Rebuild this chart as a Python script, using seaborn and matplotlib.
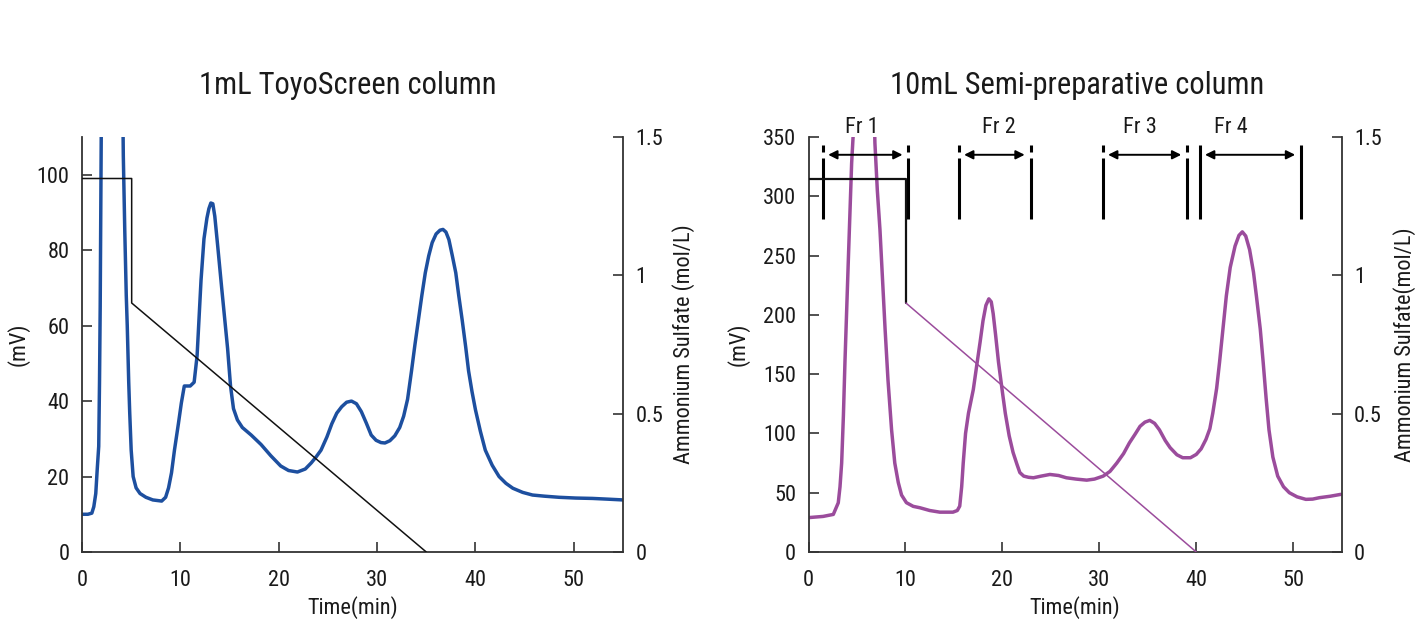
import matplotlib
matplotlib.use("Agg")
import matplotlib.pyplot as plt
import seaborn as sns
import pandas as pd

# ---- 1 mL ToyoScreen column: UV trace (mV) ----
small_time = [0, 0.6, 1.0, 1.2, 1.4, 1.55, 1.7, 1.78, 1.85, 1.92, 2.0, 3.0, 4.1, 4.2, 4.35,
              4.5, 4.6, 4.75, 4.85, 5.0, 5.2, 5.5, 5.9, 6.5, 7.2, 8.1, 8.5, 8.8, 9.1, 9.4,
              9.8, 10.1, 10.4, 11.0, 11.4, 11.7, 11.9, 12.1, 12.4, 12.7, 12.9, 13.1, 13.3,
              13.5, 13.8, 14.2, 14.5, 14.8, 15.1, 15.4, 15.8, 16.3, 17.2, 18.2, 19.2, 20.2,
              21.0, 21.9, 22.7, 23.3, 23.8, 24.3, 24.9, 25.4, 25.9, 26.4, 26.9, 27.4, 27.9,
              28.4, 28.9, 29.4, 29.9, 30.4, 30.8, 31.3, 31.8, 32.3, 32.7, 33.1, 33.5, 33.85,
              34.2, 34.55, 34.9, 35.25, 35.6, 36.0, 36.4, 36.7, 37.0, 37.3, 37.65, 38.0,
              38.3, 38.65, 39.0, 39.3, 39.65, 40.0, 40.5, 41.0, 41.7, 42.4, 43.1, 43.8,
              44.8, 45.8, 47.0, 48.5, 50.2, 51.9, 53.5, 55.0]
small_mv = [10, 10, 10.3, 12, 15.5, 22, 28, 45, 65, 95, 130, 600, 130, 105, 85,
            68, 60, 45, 37, 27, 20, 17, 15.5, 14.5, 13.8, 13.5, 14.5, 17, 21, 27,
            34, 39.5, 44, 44, 45, 52, 62, 72, 83, 88.5, 91, 92.5, 92.3,
            89, 81, 70, 62, 54, 44, 38, 35, 33, 31, 28.5, 25.5, 22.8,
            21.6, 21.2, 22.0, 23.6, 25.2, 27, 30.5, 34, 36.8, 38.5, 39.7, 40, 39.3,
            37.2, 34.2, 31, 29.6, 29, 28.9, 29.5, 30.8, 33, 36, 40.5, 48, 55,
            61.5, 68, 74, 78.5, 82, 84.3, 85.3, 85.5, 84.8, 82.8, 78.5, 74,
            68, 61.5, 54.5, 48, 42.5, 37.7, 32, 27, 23, 20, 18.2, 16.9,
            15.8, 15.1, 14.8, 14.5, 14.3, 14.2, 14.0, 13.8]
# ammonium sulfate gradient program (mol/L)
small_grad_time = [0, 5.05, 5.05, 35.0]
small_grad_conc = [1.35, 1.35, 0.9, 0.0]

# ---- 10 mL semi-preparative column: UV trace (mV) ----
prep_time = [0, 1.5, 2.56, 3.07, 3.25, 3.42, 3.6, 3.76, 4.1, 4.45, 4.8, 5.8, 6.75, 6.85,
             7.1, 7.37, 7.9, 8.2, 8.57, 8.9, 9.26, 9.6, 10.1, 10.8, 11.5, 12.5, 13.55,
             14.9, 15.35, 15.6, 15.8, 15.96, 16.2, 16.5, 17.0, 17.4, 17.7, 18.0, 18.3,
             18.6, 18.85, 19.05, 19.3, 19.6, 20.0, 20.3, 20.7, 21.1, 21.5, 21.8, 22.2,
             22.7, 23.2, 24.0, 24.9, 25.8, 26.6, 27.6, 28.7, 29.5, 30.4, 31.1, 31.8,
             32.5, 33.1, 33.7, 34.2, 34.7, 35.2, 35.7, 36.2, 36.8, 37.3, 38.0, 38.6,
             39.4, 40.0, 40.5, 41.0, 41.4, 41.7, 42.1, 42.4, 42.8, 43.1, 43.5, 44.0,
             44.4, 44.75, 45.1, 45.5, 45.9, 46.2, 46.6, 46.9, 47.2, 47.5, 47.9, 48.4,
             49.0, 49.6, 50.4, 51.3, 52.0, 52.7, 53.8, 54.9]
prep_mv = [29, 30, 31.7, 41.5, 55, 75, 115, 160, 244, 328, 380, 700, 380, 345,
           305, 272, 188, 145, 103, 75, 58.6, 48, 41.6, 38.5, 37.3, 35, 33.6,
           33.6, 35, 38.7, 55, 75, 100, 117, 137, 160, 177, 195, 208,
           213.5, 211, 201, 183, 160, 135, 117, 98, 84, 74, 67, 64,
           63, 62.6, 64, 65.4, 64.5, 62.6, 61.5, 60.6, 61.5, 64, 68, 75,
           83, 92, 99.5, 106, 109.5, 111, 108.5, 103, 94, 88, 82, 79.5,
           79.5, 82.3, 87, 95, 104, 117, 138, 160, 192, 216, 240, 258,
           267, 270, 266.5, 255, 236, 216, 188, 160, 130, 103, 80, 64,
           55, 50, 46.5, 44.4, 44.6, 45.8, 47, 48.6]
prep_grad_time = [0, 10.05, 10.05, 40.0]
prep_grad_conc = [1.35, 1.35, 0.9, 0.0]

# fraction collection windows (min)
fraction_labels = ["Fr 1", "Fr 2", "Fr 3", "Fr 4"]
fraction_starts = [1.53, 15.55, 30.4, 40.4]
fraction_ends = [10.3, 22.9, 39.05, 50.8]
fraction_label_x = [5.5, 19.6, 34.2, 43.6]

BLUE = "#1d4f9f"
PURPLE = "#9b4c9c"
INK = "#1a1a1a"

sns.set_theme(style="ticks")
plt.rcParams["font.family"] = ["Roboto Condensed", "DejaVu Sans"]
plt.rcParams["axes.linewidth"] = 1.3
plt.rcParams["xtick.direction"] = "in"
plt.rcParams["ytick.direction"] = "in"

fig = plt.figure(figsize=(14.2, 6.27), dpi=100)
fig.patch.set_facecolor("white")

W, H = 1420, 627
ax1 = fig.add_axes([82 / W, 1 - 552 / H, (623 - 82) / W, (552 - 137) / H])
ax2 = fig.add_axes([808.5 / W, 1 - 552 / H, (1341.7 - 808.5) / W, (552 - 137) / H])

TICK_FS = 16
LABEL_FS = 16


def style_axes(ax, axr, ymax, yticks, right_label, mv_x, amm_x):
    ax.set_xlim(0, 55)
    ax.set_ylim(0, ymax)
    ax.set_xticks([0, 10, 20, 30, 40, 50])
    ax.set_yticks(yticks)
    axr.set_ylim(0, 1.5)
    axr.set_yticks([0, 0.5, 1, 1.5])
    axr.set_yticklabels(["0", "0.5", "1", "1.5"])
    for a in (ax, axr):
        a.spines["top"].set_visible(False)
        a.tick_params(labelsize=TICK_FS, length=7, width=1.2, colors="#333333",
                      labelcolor=INK, pad=9)
        for s in a.spines.values():
            s.set_color("#333333")
    ax.tick_params(axis="x", pad=13)
    ax.spines["right"].set_visible(False)
    axr.spines["left"].set_visible(False)
    axr.spines["bottom"].set_visible(False)
    ax.set_xlabel("Time(min)", fontsize=LABEL_FS, color=INK)
    ax.xaxis.set_label_coords(0.5, -0.106)
    ax.set_ylabel("(mV)", fontsize=LABEL_FS, color=INK)
    ax.yaxis.set_label_coords(mv_x, 0.5)
    axr.set_ylabel(right_label, fontsize=LABEL_FS, color=INK)
    axr.yaxis.set_label_coords(amm_x, 0.5)
    ax.grid(False)
    axr.grid(False)


# ---- left panel ----
df_small = pd.DataFrame({"time": small_time, "mv": small_mv})
sns.lineplot(data=df_small, x="time", y="mv", ax=ax1, sort=False, estimator=None,
             color=BLUE, linewidth=2.5)
ax1r = ax1.twinx()
ax1r.set_position(ax1.get_position())
sns.lineplot(x=small_grad_time, y=small_grad_conc, ax=ax1r, sort=False,
             estimator=None, color="#111111", linewidth=1.1)
style_axes(ax1, ax1r, 110, [0, 20, 40, 60, 80, 100],
           "Ammonium Sulfate (mol/L)", -0.096, 1.09)

# ---- right panel ----
df_prep = pd.DataFrame({"time": prep_time, "mv": prep_mv})
sns.lineplot(data=df_prep, x="time", y="mv", ax=ax2, sort=False, estimator=None,
             color=PURPLE, linewidth=2.5)
ax2r = ax2.twinx()
ax2r.set_position(ax2.get_position())
# isocratic hold and step drawn in black, linear gradient in purple
sns.lineplot(x=prep_grad_time[:3], y=prep_grad_conc[:3], ax=ax2r, sort=False,
             estimator=None, color="#111111", linewidth=1.6)
sns.lineplot(x=prep_grad_time[2:], y=prep_grad_conc[2:], ax=ax2r, sort=False,
             estimator=None, color=PURPLE, linewidth=1.1)
style_axes(ax2, ax2r, 350, [0, 50, 100, 150, 200, 250, 300, 350],
           "Ammonium Sulfate(mol/L)", -0.110, 1.096)

# fraction boundaries, arrows and labels
BAR_TOP, BAR_BOT = 343.5, 280.5
ARROW_Y = 335
for i, (lab, t0, t1, tx) in enumerate(zip(fraction_labels, fraction_starts,
                                          fraction_ends, fraction_label_x)):
    for t in (t0, t1):
        if i < 3:
            ax2.plot([t, t], [BAR_TOP, 337.5], color="black", lw=2.2,
                     solid_capstyle="butt", clip_on=False, zorder=5)
            ax2.plot([t, t], [332.5, BAR_BOT], color="black", lw=2.2,
                     solid_capstyle="butt", clip_on=False, zorder=5)
        else:
            ax2.plot([t, t], [BAR_TOP, BAR_BOT], color="black", lw=2.2,
                     solid_capstyle="butt", clip_on=False, zorder=5)
    ax2.annotate("", xy=(t0 + 0.5, ARROW_Y), xytext=(t1 - 0.6, ARROW_Y),
                 arrowprops=dict(arrowstyle="<|-|>", color="black", lw=1.4,
                                 mutation_scale=13, shrinkA=0, shrinkB=0),
                 annotation_clip=False, zorder=6)
    ax2.text(tx, 358, lab, ha="center", va="center", fontsize=TICK_FS,
             color=INK, clip_on=False)

fig.text(348 / W, 1 - 86 / H, "1mL ToyoScreen column", ha="center", va="center",
         fontsize=22, color=INK)
fig.text(1077 / W, 1 - 86 / H, "10mL Semi-preparative column", ha="center",
         va="center", fontsize=22, color=INK)

fig.savefig("out.png", dpi=100, facecolor="white")
